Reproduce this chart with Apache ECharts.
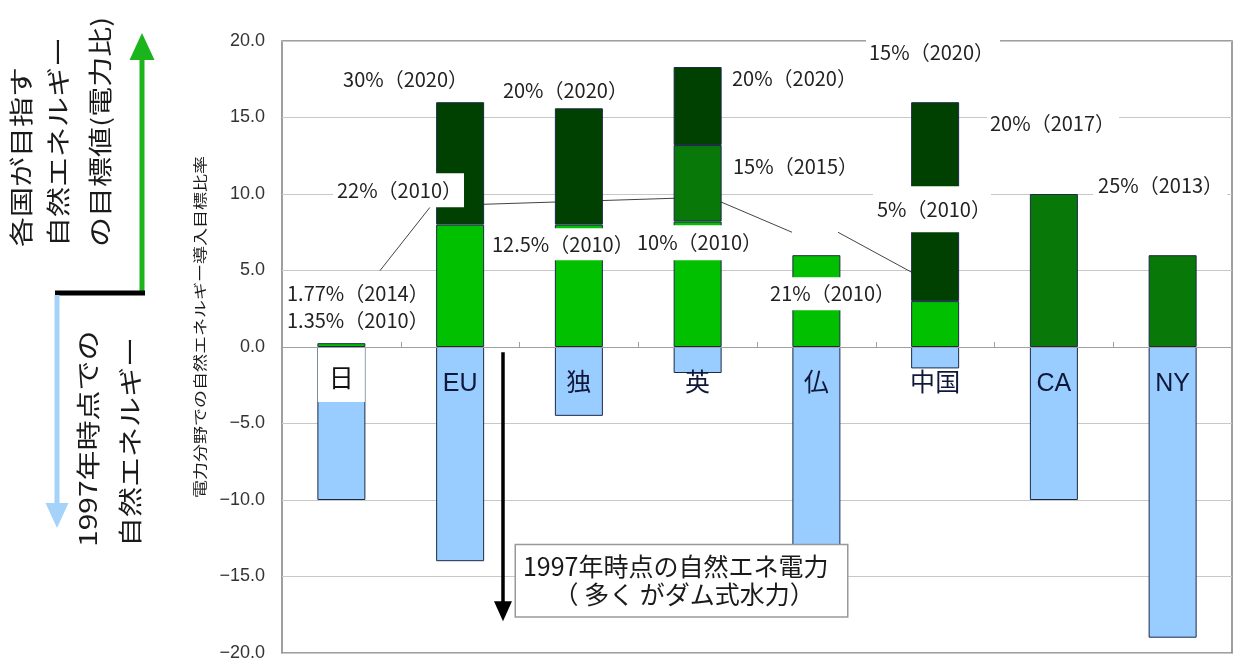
<!DOCTYPE html>
<html><head><meta charset="utf-8">
<script src="https://cdn.jsdelivr.net/npm/echarts@6/dist/echarts.min.js"></script>
<style>html,body{margin:0;padding:0;background:#fff}#c{width:1236px;height:667px}</style>
</head><body><div id="c"></div>
<script>
// ---- data ----
const categories = ['日', 'EU', '独', '英', '仏', '中国', 'CA', 'NY'];
const lightGreen = [0.25, 8, 8, 8.2, 6, 3, null, null];     // 2010 target part
const midGreen   = [null, null, null, 5, null, null, 10, 6];  // intermediate target
const darkGreen  = [null, 8, 7.6, 5.1, null, 13, null, null]; // final target
const base1997   = [-10, -14, -4.5, -1.7, -15, -1.4, -10, -19]; // 1997 level (drawn downward)

// ---- annotation texts (anchored in data units: x = category index, y = value) ----
const noteTexts = ['30%（2020）', '20%（2020）', '22%（2010）', '1.77%（2014）\n1.35%（2010）',
  '12.5%（2010）', '10%（2010）', '20%（2020）', '15%（2015）', '21%（2010）',
  '15%（2020）', '20%（2017）', '5%（2010）', '25%（2013）'];
const noteX = [0.014, 1.36, -0.0705, -0.458, 1.2516, 2.4726, 3.289, 3.298, 3.576, 4.418, 5.437, 4.477, 6.33];
const noteY = [17.5, 16.78, 10.24, 2.63, 6.71, 6.81, 17.56, 11.81, 3.477, 19.23, 14.62, 9.0, 10.57];
const boxText = '1997年時点の自然エネ電力\n\u3000 （ 多く がダム式水力）';
const boxAnchor = [1.4705, -15.28];
const arrowLine = [[1.361, -0.35], [1.361, -17.27]];
const leaderLines = [
  [[0.746, 9.13], [0.325, 4.99]],
  [[1.0, 9.28], [3.0, 9.77]],
  [[3.0, 10.13], [3.795, 7.50]],
  [[4.182, 7.50], [5.0, 4.05]]
];
const yAxisName = '電力分野での自然エネルギー導入目標比率';

// ---- styles ----
const notePad = [[0,0,0,0],[0,0,0,0],[12,2,0,4],[0,0,0,0],[10,2,0,2],[11,2,2,2],[0,0,0,0],[0,0,0,0],
  [10,2,1,4],[5,6,0,3],[2,4,2,3],[12,0,12,4],[2,4,4,5]];
const jp = "'Noto Sans CJK JP', sans-serif";
const border = '#1c2a48';

const chart = echarts.init(document.getElementById('c'), null, {renderer: 'canvas'});

function barSeries(name, data, color, extra) {
  return Object.assign({
    name, type: 'bar', stack: 'all', data, barWidth: 48, z: 2,
    itemStyle: {color, borderColor: border, borderWidth: 1}
  }, extra || {});
}

const baseData = base1997.map((v, i) => i === 0
  ? {value: v, label: {backgroundColor: '#fff', padding: [16, 11, 11, 11], fontFamily: jp, color: '#111'}}
  : v);

const series = [
  barSeries('2010', lightGreen, '#00c000'),
  barSeries('mid', midGreen, '#087808'),
  barSeries('final', darkGreen, '#004000'),
  barSeries('1997', baseData, '#99ccff', {
    label: {
      show: true, position: 'insideTop', distance: 0,
      formatter: p => categories[p.dataIndex],
      fontSize: 25, lineHeight: 28, padding: [23, 0, 0, 0],
      fontFamily: "'Liberation Sans', 'Noto Sans CJK JP', sans-serif", color: '#10183a'
    }
  })
];

leaderLines.forEach(seg => series.push({
  type: 'line', xAxisIndex: 1, yAxisIndex: 0, data: seg, symbol: 'none', z: 1, silent: true,
  lineStyle: {color: '#444', width: 1}
}));

series.push({
  type: 'scatter', xAxisIndex: 1, yAxisIndex: 0, symbolSize: 0, z: 5, silent: true,
  itemStyle: {opacity: 1},
  data: noteTexts.map((t, i) => ({
    value: [noteX[i], noteY[i]],
    label: {
      show: true, position: 'right', distance: 0, formatter: t, opacity: 1,
      fontFamily: jp, fontSize: 20, lineHeight: i === 3 ? 27 : 22, color: '#222',
      backgroundColor: '#fff', padding: notePad[i]
    }
  })).concat([{
    value: boxAnchor,
    label: {
      show: true, position: 'right', distance: 0, formatter: boxText, opacity: 1,
      fontFamily: jp, fontSize: 25, lineHeight: 28, color: '#1a1a1a',
      backgroundColor: '#fff', borderColor: '#999', borderWidth: 1.5,
      padding: [8, 6, 7, 7], width: 318
    }
  }]),
  markLine: {
    silent: true, symbol: ['none', 'triangle'], symbolSize: [18, 20], label: {show: false},
    lineStyle: {color: '#000', width: 3.5, type: 'solid', opacity: 1},
    data: [[{coord: arrowLine[0]}, {coord: arrowLine[1]}]]
  }
});

const rotText = (x, y, text, size, sy, align) => ({
  type: 'text', x, y, rotation: Math.PI / 2, scaleY: sy, silent: true,
  style: {text, fontSize: size, fontFamily: jp, fill: '#1a1a1a',
    textAlign: align, textVerticalAlign: 'middle', align: align, verticalAlign: 'middle'}
});

chart.setOption({
  animation: false,
  backgroundColor: '#fff',
  grid: {left: 282, right: 4, top: 41, bottom: 14, show: true, borderColor: '#808080', borderWidth: 1.5,
    containLabel: false, outerBoundsMode: 'none'},
  xAxis: [{
    type: 'category', data: categories, z: 10,
    axisLine: {onZero: true, onZeroAxisIndex: 0, lineStyle: {color: '#a0a0a0', width: 1}},
    axisTick: {show: true, inside: true, length: 5, lineStyle: {color: '#a0a0a0'}},
    splitLine: {show: false},
    axisLabel: {show: false}
  }, {
    type: 'value', min: -0.5, max: 7.5, show: false
  }],
  yAxis: {
    type: 'value', min: -20, max: 20, interval: 5,
    axisLine: {show: false, onZero: false}, axisTick: {show: false},
    splitLine: {lineStyle: {color: '#c8c8c8', width: 1}},
    axisLabel: {margin: 17, fontSize: 18, color: '#333', fontFamily: "'Liberation Sans', sans-serif",
      formatter: v => (v < 0 ? '−' : '') + Math.abs(v).toFixed(1)}
  },
  series,
  graphic: [
    // green up arrow
    {type: 'line', silent: true, shape: {x1: 142, y1: 293, x2: 142, y2: 55}, style: {stroke: '#1cb41c', lineWidth: 5}},
    {type: 'polygon', silent: true, shape: {points: [[142, 33], [129.5, 60], [154.5, 60]]}, style: {fill: '#1cb41c'}},
    // black connector
    {type: 'line', silent: true, shape: {x1: 55, y1: 293, x2: 145, y2: 293}, style: {stroke: '#000', lineWidth: 5}},
    // blue down arrow
    {type: 'line', silent: true, shape: {x1: 57, y1: 295, x2: 57, y2: 505}, style: {stroke: '#a4d2f8', lineWidth: 5}},
    {type: 'polygon', silent: true, shape: {points: [[57, 528], [45.5, 503], [68.5, 503]]}, style: {fill: '#a4d2f8'}},
    rotText(21, 247, '各国が目指す', 30, 0.8, 'left'),
    rotText(58, 247, '自然エネルギー', 30, 0.8, 'left'),
    rotText(100, 247, 'の目標値(電力比)', 30, 0.8, 'left'),
    rotText(88, 547, '1997年時点での', 30, 0.8, 'left'),
    rotText(130, 547, '自然エネルギー', 30, 0.8, 'left'),
    rotText(200, 327, yAxisName, 18, 0.75, 'center')
  ]
});
</script>
</body></html>
